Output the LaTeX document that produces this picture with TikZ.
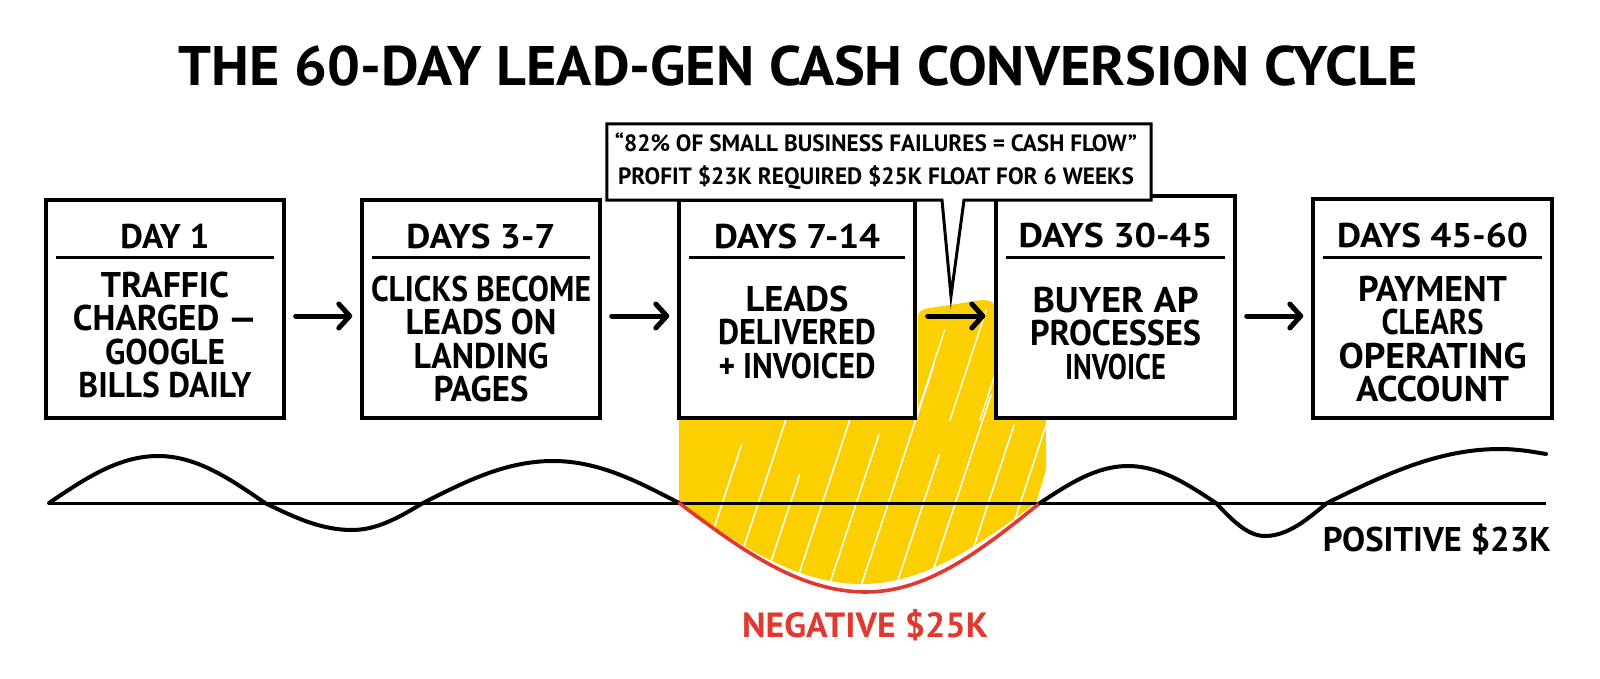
\documentclass[tikz,border=0pt]{standalone}
\usepackage{fontspec}
\setmainfont{PT Sans}
\usetikzlibrary{arrows.meta,calc}
\definecolor{hlyellow}{HTML}{FCD000}
\definecolor{negred}{HTML}{E03A30}
\newcommand\fw[3]{\resizebox{#1pt}{#2pt}{\raisebox{0pt}[\fontcharht\font`H][0pt]{#3}}}
\begin{document}
\begin{tikzpicture}[x=1pt,y=-1pt,
  box/.style={draw, line width=3.4pt, fill=white, minimum width=238pt, minimum height=218pt, inner sep=0pt},
  hdr/.style={font=\bfseries\fontsize{34}{34}\selectfont, inner sep=0pt, anchor=base},
  body/.style={font=\bfseries\fontsize{34}{33.5}\selectfont, align=center, inner sep=0pt},
  sepline/.style={line width=3pt},
  arr/.style={line width=5pt, line cap=round, -{Straight Barb[length=11pt,width=24pt,line width=5pt,round]}},
  wave/.style={line width=4pt, line cap=round, line join=round},
  lbl/.style={font=\bfseries\fontsize{34}{34}\selectfont, inner sep=0pt}
]
\useasboundingbox (0,0) rectangle (1600,679);
\fill[white] (0,0) rectangle (1600,679);

% yellow highlight
\fill[hlyellow] (679,412) -- (679,503) sin (862,584) cos (1036,503) -- (1046,470) -- (1046,412) -- (996,412) -- (996,310) .. controls (996,302) and (990,300) .. (982,300) -- (930,308) .. controls (922,309) and (918,311) .. (918,318) -- (918,412) -- cycle;
\begin{scope}
\clip (679,412) -- (679,503) sin (862,584) cos (1036,503) -- (1046,470) -- (1046,412) -- (996,412) -- (996,310) .. controls (996,302) and (990,300) .. (982,300) -- (930,308) .. controls (922,309) and (918,311) .. (918,318) -- (918,412) -- cycle;
\foreach \x/\l in {692/150, 728/190, 760/120, 792/210, 826/160, 858/230, 893/140, 925/200, 958/170, 990/220, 1020/130} {
  \draw[white, line width=1.5pt, line cap=round] (\x,595) -- ++(0.33*\l,-\l);
}
\foreach \x/\l in {915/90, 950/110, 980/80} {
  \draw[white, line width=1.3pt, line cap=round] (\x,420) -- ++(0.33*\l,-\l);
}
\end{scope}

% baseline and wave
\coordinate (bl0) at (48,503);
\coordinate (bl1) at (1546,503);
\draw[line width=3pt] (bl0) -- (bl1);
\draw[wave] (49,503) sin (158,456) cos (265,503) sin (352,530) cos (423,503) sin (553,461) cos (679,503);
\draw[wave, negred, line width=3.6pt] (679,503) sin (866,592) cos (1040,503);
\draw[wave] (1040,503) sin (1128,466) cos (1216,503) sin (1265,536) cos (1327,503) sin (1500,449) cos (1546,454);

% boxes
\node[box] (b1) at (165,309) {};
\node[box] (b2) at (481,309) {};
\node[box, minimum width=236pt] (b3) at (797,309) {};
\node[box, minimum width=239pt, minimum height=222pt] (b4) at (1115.5,307) {};
\node[box, minimum width=239pt, minimum height=219pt] (b5) at (1432.5,308.5) {};

\node[hdr] (b1h) at ($(b1.north |- 0,248)$) {\fw{89}{24}{DAY 1}};
\node[hdr] (b2h) at ($(b2.north |- 0,248)$) {\fw{149}{24}{DAYS 3-7}};
\node[hdr] (b3h) at ($(b3.north |- 0,248)$) {\fw{166}{24}{DAYS 7-14}};
\node[hdr] (b4h) at ($(b4.north |- 0,247)$) {\fw{194}{24}{DAYS 30-45}};
\node[hdr] (b5h) at ($(b5.north |- 0,247)$) {\fw{191}{24}{DAYS 45-60}};
\foreach \b in {b1,b2,b3,b4,b5} {
  \draw[sepline] ($(\b.west |- 0,257)+(12,0)$) -- ($(\b.east |- 0,257)+(-12,0)$);
}

\node[body] (b1t) at (165,335) {\fw{128}{25}{TRAFFIC}\\\fw{184}{25}{CHARGED —}\\\fw{120}{25}{GOOGLE}\\\fw{173}{25}{BILLS DAILY}};
\node[body] (b2t) at (481,339) {\fw{220}{25}{CLICKS BECOME}\\\fw{151}{25}{LEADS ON}\\\fw{135}{25}{LANDING}\\\fw{95}{25}{PAGES}};
\node[body] (b3t) at (797,332) {\fw{103}{25}{LEADS}\\\fw{158}{25}{DELIVERED}\\\fw{157}{25}{+ INVOICED}};
\node[body] (b4t) at (1115.5,333) {\fw{166}{25}{BUYER AP}\\\fw{171}{25}{PROCESSES}\\\fw{101}{25}{INVOICE}};
\node[body] (b5t) at (1432.5,339) {\fw{149}{25}{PAYMENT}\\\fw{102}{25}{CLEARS}\\\fw{188}{25}{OPERATING}\\\fw{153}{25}{ACCOUNT}};

% callout
\node[minimum width=544pt, minimum height=76pt, inner sep=0pt] (callout) at (879,162) {};
\coordinate (tip) at (951,296);
\draw[line width=3pt, fill=white, line join=miter]
  (callout.north west) -- (callout.north east) -- (callout.south east)
  -- ([xshift=85pt]callout.south) -- (tip) -- ([xshift=63pt]callout.south)
  -- (callout.south west) -- cycle;
\node[font=\bfseries\fontsize{23.5}{33}\selectfont, align=center, inner sep=0pt] (callouttext) at (876,159.5) {\fw{522}{16.5}{“82\% OF SMALL BUSINESS FAILURES = CASH FLOW”}\\\fw{516}{16.5}{PROFIT \$23K REQUIRED \$25K FLOAT FOR 6 WEEKS}};

% arrows
\coordinate (arow) at (0,316);
\draw[arr, shorten <=10pt, shorten >=8pt] (b1.east |- arow) -- (b2.west |- arow);
\draw[arr, shorten <=10pt, shorten >=8pt] (b2.east |- arow) -- (b3.west |- arow);
\draw[arr, shorten <=11pt, shorten >=9pt] (b3.east |- arow) -- (b4.west |- arow);
\draw[arr, shorten <=10pt, shorten >=8pt] (b4.east |- arow) -- (b5.west |- arow);

% labels
\node[lbl, anchor=east] (pos) at (1551,539) {\fw{228}{24}{POSITIVE \$23K}};
\node[lbl, text=negred] (neg) at (865,625) {\fw{246}{24.5}{NEGATIVE \$25K}};

% title
\node[font=\bfseries\fontsize{56}{56}\selectfont, inner sep=0pt] (title) at (798.5,66) {\fw{1239}{39}{THE 60-DAY LEAD-GEN CASH CONVERSION CYCLE}};
\end{tikzpicture}
\end{document}
